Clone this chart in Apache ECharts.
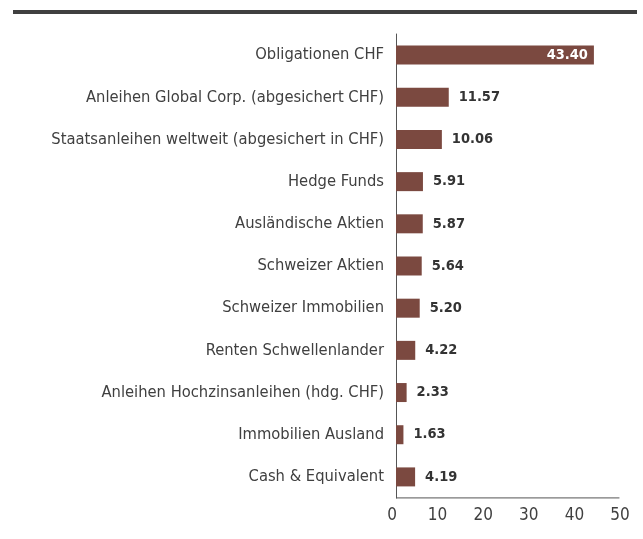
<!DOCTYPE html>
<html><head><meta charset="utf-8">
<script src="https://cdn.jsdelivr.net/npm/echarts@6/dist/echarts.min.js"></script>
<style>html,body{margin:0;padding:0;background:#fff}#c{width:643px;height:539px}</style>
</head><body><div id="c"></div>
<script>
const categories = ["Obligationen CHF","Anleihen Global Corp. (abgesichert CHF)","Staatsanleihen weltweit (abgesichert in CHF)","Hedge Funds","Ausländische Aktien","Schweizer Aktien","Schweizer Immobilien","Renten Schwellenlander","Anleihen Hochzinsanleihen (hdg. CHF)","Immobilien Ausland","Cash & Equivalent"];
const values = [43.40,11.57,10.06,5.91,5.87,5.64,5.20,4.22,2.33,1.63,4.19];
const xTicks = [0,10,20,30,40,50];

const FONT = '"DejaVu Sans Condensed",sans-serif';
const chart = echarts.init(document.getElementById('c'));
chart.setOption({
  animation:false,
  grid:{left:396,top:34,width:228,bottom:41,containLabel:false},
  xAxis:{type:'value',min:xTicks[0],max:xTicks[xTicks.length-1],interval:10,
    axisLine:{show:false},axisTick:{show:false},splitLine:{show:false},
    axisLabel:{color:'#404040',fontFamily:FONT,fontSize:17,margin:9,padding:[0,8,0,0]}},
  yAxis:{type:'category',inverse:true,data:categories,
    axisLine:{show:true,lineStyle:{color:'#555',width:1}},axisTick:{show:false},
    axisLabel:{color:'#404040',fontFamily:FONT,fontSize:16.4,margin:12}},
  series:[{type:'bar',barWidth:19,
    data:values.map((v,i)=>({value:v,label:i===0?{position:'insideRight',color:'#fff',offset:[-1,0]}:{position:'right',color:'#333',distance:10}})),
    itemStyle:{color:'#7b4940'},
    label:{show:true,fontFamily:FONT,fontWeight:'bold',fontSize:14.5,formatter:p=>p.value.toFixed(2)}}]
});
const y0 = chart.convertToPixel({yAxisIndex:0},categories[categories.length-1]) + 21;
const xa = chart.convertToPixel({xAxisIndex:0},0), xb = chart.convertToPixel({xAxisIndex:0},49);
chart.setOption({graphic:[{type:'rect',shape:{x:13,y:10,width:624,height:4},style:{fill:'#404040'}},
  {type:'line',shape:{x1:xa,y1:y0,x2:xb,y2:y0},style:{stroke:'#555',lineWidth:1}}]});
</script></body></html>
